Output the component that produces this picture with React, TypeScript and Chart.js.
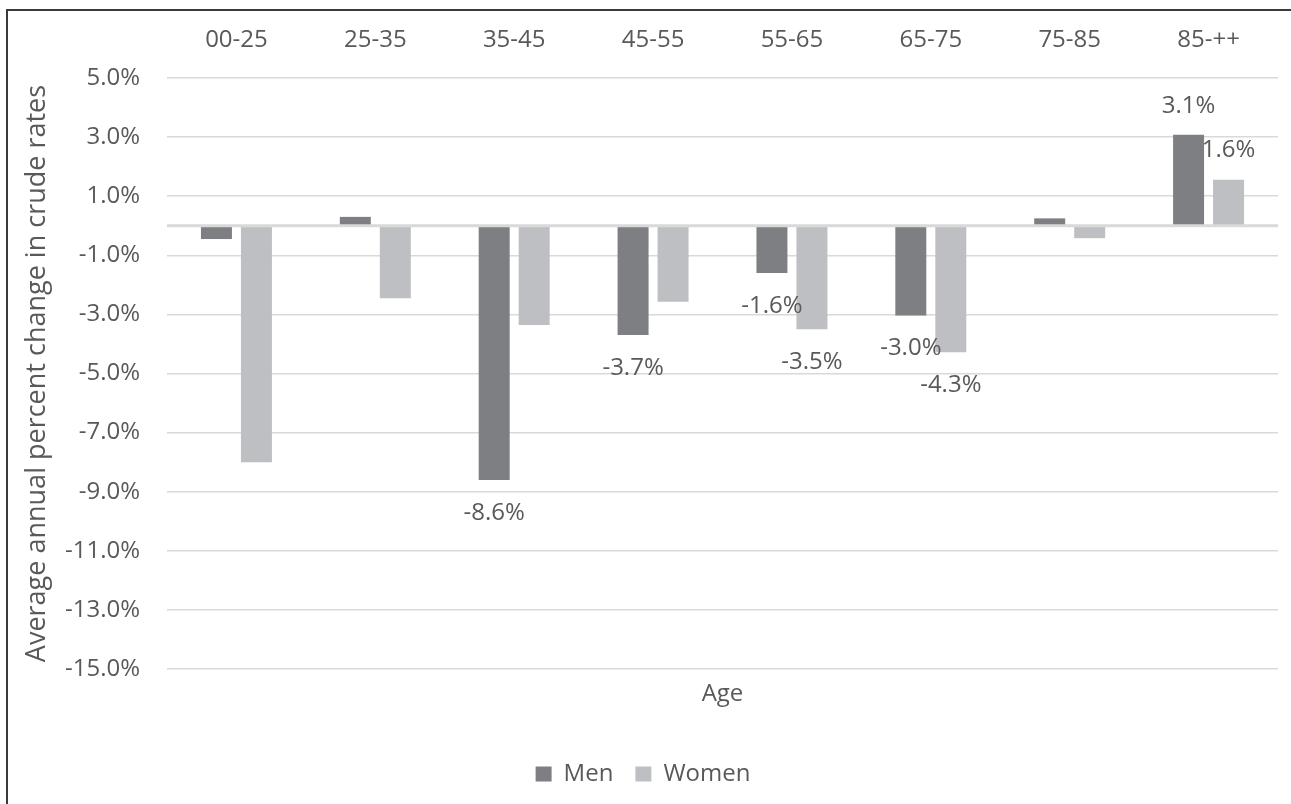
import React, { useEffect, useRef } from "react";
import { Chart, registerables } from "chart.js";

Chart.register(...registerables);

const ageGroups = ["00-25", "25-35", "35-45", "45-55", "55-65", "65-75", "75-85", "85-++"];
const menValues = [-0.45, 0.3, -8.6, -3.7, -1.6, -3.04, 0.25, 3.08];
const womenValues = [-8.0, -2.45, -3.36, -2.57, -3.5, -4.28, -0.42, 1.56];
const menLabelShown = [false, false, true, true, true, true, false, true];
const womenLabelShown = [false, false, false, false, true, true, false, true];
const yMin = -15;
const yMax = 5;
const yStep = 2;

const FONT = "'Open Sans', sans-serif";
const TEXT = "#595959";
const FONT_SIZE = 24;

const zeroLinePlugin = {
  id: "zeroLine",
  afterDatasetsDraw(chart: any) {
    const { ctx, chartArea } = chart;
    const y = chart.scales.y.getPixelForValue(0);
    ctx.save();
    ctx.strokeStyle = "#d9d9d9";
    ctx.lineWidth = 3;
    ctx.beginPath();
    ctx.moveTo(chartArea.left, y);
    ctx.lineTo(chartArea.right, y);
    ctx.stroke();
    ctx.restore();
  },
};

const labelPlugin = {
  id: "barLabels",
  afterDraw(chart: any) {
    const { ctx } = chart;
    const shown = [menLabelShown, womenLabelShown];
    ctx.save();
    ctx.font = `${FONT_SIZE}px ${FONT}`;
    ctx.fillStyle = TEXT;
    ctx.textAlign = "center";
    ctx.textBaseline = "middle";
    chart.data.datasets.forEach((ds: any, di: number) => {
      const meta = chart.getDatasetMeta(di);
      meta.data.forEach((bar: any, i: number) => {
        if (!shown[di][i]) return;
        const v = ds.data[i] as number;
        const off = v < 0 ? 33 : -29;
        ctx.fillText(v.toFixed(1) + "%", bar.x, bar.y + off);
      });
    });
    ctx.restore();
  },
};

export default function App() {
  const ref = useRef<HTMLCanvasElement>(null);
  useEffect(() => {
    const font = { family: FONT, size: FONT_SIZE };
    const chart = new Chart(ref.current as HTMLCanvasElement, {
      type: "bar",
      data: {
        labels: ageGroups,
        datasets: [
          {
            label: "Men",
            data: menValues,
            backgroundColor: "#7e7f83",
            categoryPercentage: 0.576,
            barPercentage: 0.775,
          },
          {
            label: "Women",
            data: womenValues,
            backgroundColor: "#bebfc2",
            categoryPercentage: 0.576,
            barPercentage: 0.775,
          },
        ],
      },
      options: {
        animation: false,
        responsive: true,
        maintainAspectRatio: false,
        layout: { padding: { left: 0, right: 13, top: 0, bottom: 8 } },
        plugins: {
          tooltip: { enabled: false },
          legend: {
            position: "bottom",
            labels: {
              boxWidth: 16,
              boxHeight: 15,
              padding: 22,
              color: TEXT,
              font,
            },
          },
        },
        scales: {
          x: {
            position: "top",
            grid: { display: false, drawTicks: false },
            border: { display: false },
            ticks: { color: TEXT, font, padding: 23 },
            afterFit(s: any) {
              s.height = 67;
            },
          },
          x2: {
            type: "category",
            labels: ageGroups,
            position: "bottom",
            grid: { display: false, drawTicks: false },
            border: { display: false },
            ticks: { display: false },
            title: {
              display: true,
              text: "Age",
              color: TEXT,
              font,
              padding: { top: 0, bottom: 31 },
            },
            afterFit(s: any) {
              s.height = 71;
            },
          },
          y: {
            min: yMin,
            max: yMax,
            ticks: {
              stepSize: yStep,
              color: TEXT,
              font,
              padding: 27,
              callback: (v: any) => Number(v).toFixed(1) + "%",
            },
            grid: { color: "#d9d9d9", lineWidth: 1.5, drawTicks: false },
            border: { display: false },
            title: {
              display: true,
              text: "Average annual percent change in crude rates",
              color: TEXT,
              font: { family: FONT, size: 27 },
              padding: { top: 13, bottom: 0 },
            },
            afterFit(s: any) {
              s.width = 159;
            },
          },
        },
      } as any,
      plugins: [zeroLinePlugin, labelPlugin],
    });
    return () => chart.destroy();
  }, []);

  return (
    <div
      style={{
        position: "fixed",
        left: 6,
        top: 9,
        width: 1285,
        height: 795,
        borderLeft: "2px solid #3a3a3a",
        borderTop: "2px solid #3a3a3a",
        boxSizing: "border-box",
        background: "#fff",
      }}
    >
      <div style={{ position: "relative", width: 1283, height: 793 }}>
        <canvas ref={ref} />
      </div>
    </div>
  );
}
